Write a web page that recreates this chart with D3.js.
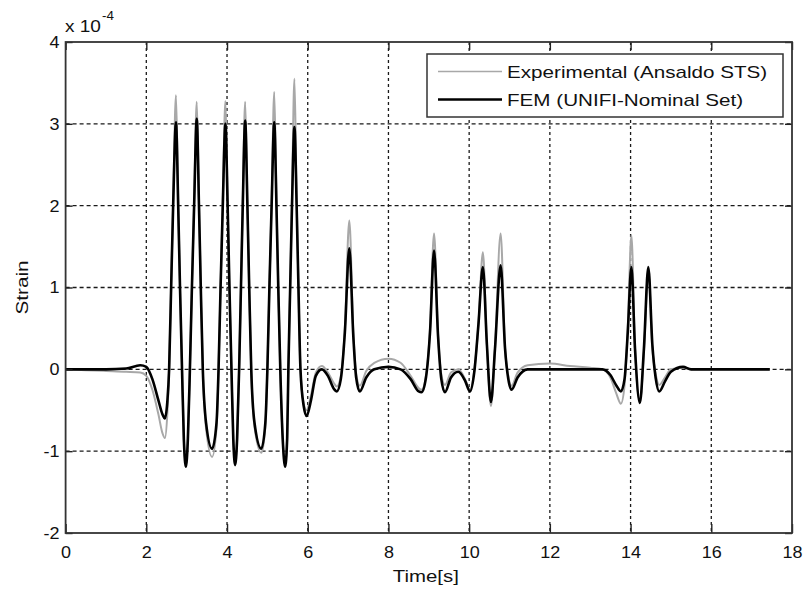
<!DOCTYPE html>
<html>
<head>
<meta charset="utf-8">
<script src="https://cdn.jsdelivr.net/npm/d3@7"></script>
<style>
  html, body { margin: 0; padding: 0; background: #fff; }
  svg { display: block; }
  text { font-family: "Liberation Sans", Arial, Helvetica, sans-serif; fill: #111; }
</style>
</head>
<body>
<svg id="chart" width="804" height="589"></svg>
<script>
// ---- Data (strain in units of 1e-4) ----
const time = [
  0.00, 0.50, 1.00, 1.50, 1.85, 2.00, 2.15, 2.30, 2.40, 2.46, 2.52,
  2.565, 2.615, 2.665, 2.735, 2.79, 2.835, 2.885, 2.93, 2.98, 3.03,
  3.08, 3.13, 3.185, 3.25, 3.305, 3.35, 3.40, 3.48, 3.63, 3.74,
  3.79, 3.84, 3.895, 3.96, 4.015, 4.06, 4.11, 4.155, 4.20, 4.25,
  4.30, 4.345, 4.39, 4.45, 4.505, 4.55, 4.60, 4.68, 4.85, 4.95,
  5.00, 5.05, 5.105, 5.17, 5.225, 5.27, 5.32, 5.38, 5.44, 5.49,
  5.52, 5.565, 5.61, 5.67, 5.725, 5.77, 5.82, 5.90, 5.97, 6.08,
  6.20, 6.35, 6.50, 6.65, 6.72, 6.82, 6.92, 7.03, 7.13, 7.20,
  7.29, 7.45, 7.65, 8.00, 8.30, 8.55, 8.75, 8.82, 8.93, 9.03,
  9.13, 9.23, 9.31, 9.40, 9.55, 9.73, 9.90, 10.02, 10.13, 10.23,
  10.34, 10.44, 10.54, 10.64, 10.78, 10.89, 10.97, 11.05, 11.20, 11.45,
  12.00, 12.50, 13.00, 13.30, 13.50, 13.65, 13.76, 13.85, 13.93, 14.02,
  14.11, 14.23, 14.33, 14.44, 14.54, 14.62, 14.71, 14.85, 15.00, 15.30,
  15.50, 16.50, 17.45
];
const fem = [
  0, 0, 0, 0.01, 0.05, 0.03, -0.12, -0.38, -0.55, -0.60, -0.40,
  0.0, 1.0, 2.0, 3.02, 2.0, 1.0, 0.0, -0.85, -1.19, -0.85,
  0.0, 1.0, 2.0, 3.06, 2.0, 1.0, 0.0, -0.65, -0.97, -0.65,
  0.0, 1.0, 2.0, 3.00, 2.0, 1.0, 0.0, -0.85, -1.17, -0.85,
  0.0, 1.0, 2.0, 3.04, 2.0, 1.0, 0.0, -0.65, -0.97, -0.65,
  0.0, 1.0, 2.0, 3.02, 2.0, 1.0, 0.0, -0.85, -1.19, -0.85,
  0.0, 1.0, 2.0, 2.96, 2.0, 1.0, 0.0, -0.45, -0.57, -0.38,
  -0.08, 0.0, -0.08, -0.24, -0.27, -0.12, 0.45, 1.48, 0.40, -0.10,
  -0.27, -0.10, 0.0, 0.03, 0.0, -0.12, -0.27, -0.28, -0.10, 0.45,
  1.45, 0.40, -0.12, -0.28, -0.10, -0.03, -0.14, -0.27, -0.02, 0.55,
  1.25, 0.30, -0.40, 0.25, 1.27, 0.25, -0.12, -0.25, -0.10, 0.0,
  0.0, 0.0, 0.0, 0.0, -0.07, -0.20, -0.27, -0.12, 0.45, 1.25,
  0.25, -0.41, 0.25, 1.25, 0.30, -0.10, -0.27, -0.15, -0.03, 0.03,
  0.0, 0.0, 0.0
];
const experimental = [
  0, -0.01, -0.02, -0.03, -0.04, -0.08, -0.25, -0.55, -0.78, -0.84, -0.55,
  0.0, 1.0, 2.05, 3.35, 2.05, 1.0, 0.0, -0.85, -1.17, -0.85,
  0.0, 1.0, 2.05, 3.27, 2.05, 1.0, 0.0, -0.72, -1.07, -0.72,
  0.0, 1.0, 2.05, 3.28, 2.05, 1.0, 0.0, -0.85, -1.15, -0.85,
  0.0, 1.0, 2.05, 3.27, 2.05, 1.0, 0.0, -0.70, -1.02, -0.70,
  0.0, 1.0, 2.05, 3.39, 2.05, 1.0, 0.0, -0.85, -1.17, -0.85,
  0.0, 1.0, 2.10, 3.55, 2.10, 1.0, 0.0, -0.42, -0.50, -0.32,
  -0.04, 0.04, -0.04, -0.17, -0.21, -0.08, 0.50, 1.82, 0.45, -0.05,
  -0.20, -0.02, 0.08, 0.13, 0.08, -0.08, -0.23, -0.25, -0.08, 0.50,
  1.66, 0.42, -0.06, -0.19, -0.04, 0.0, -0.12, -0.25, 0.0, 0.55,
  1.43, 0.30, -0.45, 0.25, 1.66, 0.25, -0.08, -0.20, -0.04, 0.05,
  0.07, 0.04, 0.02, 0.0, -0.10, -0.30, -0.42, -0.20, 0.50, 1.64,
  0.25, -0.40, 0.20, 1.22, 0.25, -0.05, -0.19, -0.10, 0.0, 0.02,
  0.0, 0.0, 0.0
];
const xTicks = [0, 2, 4, 6, 8, 10, 12, 14, 16, 18];
const yTicks = [-2, -1, 0, 1, 2, 3, 4];
const seriesNames = ["Experimental (Ansaldo STS)", "FEM (UNIFI-Nominal Set)"];
const xLabel = "Time[s]";
const yLabel = "Strain";
const exponentBase = "x 10";
const exponentPower = "-4";

// ---- Layout ----
const svg = d3.select("#chart");
const L = 65.6, R = 792, T = 42, B = 533;
const x = d3.scaleLinear().domain([0, 18]).range([L, R]);
const y = d3.scaleLinear().domain([-2, 4]).range([B, T]);

svg.append("rect").attr("width", 804).attr("height", 589).attr("fill", "#fff");

// grid
const grid = svg.append("g");
grid.selectAll("line.vg").data(xTicks.slice(1, -1)).join("line")
  .attr("x1", d => x(d)).attr("x2", d => x(d)).attr("y1", T).attr("y2", B)
  .attr("stroke", "#1a1a1a").attr("stroke-width", 1.3).attr("stroke-dasharray", "3,3");
grid.selectAll("line.hg").data(yTicks.slice(1, -1)).join("line")
  .attr("x1", L).attr("x2", R).attr("y1", d => y(d)).attr("y2", d => y(d))
  .attr("stroke", "#1a1a1a").attr("stroke-width", 1.3).attr("stroke-dasharray", "4,3");

// series
const pts = (vals) => time.map((t, i) => [t, vals[i]]);
const line = d3.line().x(d => x(d[0])).y(d => y(d[1])).curve(d3.curveMonotoneX);
svg.append("path").datum(pts(experimental)).attr("d", line)
  .attr("fill", "none").attr("stroke", "#a8a8a8").attr("stroke-width", 2).attr("stroke-linejoin", "round");
svg.append("path").datum(pts(fem)).attr("d", line)
  .attr("fill", "none").attr("stroke", "#000").attr("stroke-width", 2.6).attr("stroke-linejoin", "round");

// axes
const fmt = d => String(d);
const gx = svg.append("g").attr("transform", `translate(0,${B})`)
  .call(d3.axisBottom(x).tickValues(xTicks).tickFormat(fmt).tickSize(-9).tickPadding(13));
const gxt = svg.append("g").attr("transform", `translate(0,${T})`)
  .call(d3.axisTop(x).tickValues(xTicks).tickFormat("").tickSize(-8));
const gy = svg.append("g").attr("transform", `translate(${L},0)`)
  .call(d3.axisLeft(y).tickValues(yTicks).tickFormat(fmt).tickSize(-7).tickPadding(6));
const gyr = svg.append("g").attr("transform", `translate(${R},0)`)
  .call(d3.axisRight(y).tickValues(yTicks).tickFormat("").tickSize(-7));
[gx, gxt, gy, gyr].forEach(g => {
  g.select(".domain").remove();
  g.selectAll(".tick line").attr("stroke", "#222").attr("stroke-width", 1.4);
});
gx.selectAll(".tick text").attr("font-size", 17).attr("font-family", null).attr("fill", "#111")
  .attr("transform", "scale(1.06,1)");
gy.selectAll(".tick text").attr("font-size", 17).attr("font-family", null).attr("fill", "#111")
  .each(function () {
    const t = d3.select(this);
    const xx = +t.attr("x");
    t.attr("x", 0).attr("transform", `translate(${xx},0) scale(1.06,1)`);
  });

// box
svg.append("rect").attr("x", L).attr("y", T).attr("width", R - L).attr("height", B - T)
  .attr("fill", "none").attr("stroke", "#333").attr("stroke-width", 1.8);

// axis labels
svg.append("text").attr("transform", `translate(${(L + R) / 2 - 3},582) scale(1.2,1)`)
  .attr("text-anchor", "middle").attr("font-size", 17).text(xLabel);
svg.append("text").attr("transform", `translate(28,${(T + B) / 2}) rotate(-90) scale(1.22,1)`)
  .attr("text-anchor", "middle").attr("font-size", 17).text(yLabel);

// exponent
const ex = svg.append("text").attr("transform", "translate(65,32) scale(1.12,1)").attr("font-size", 17);
ex.append("tspan").text(exponentBase);
ex.append("tspan").attr("font-size", 12).attr("dy", -12).attr("dx", 1).text(exponentPower);

// legend
const lg = svg.append("g");
lg.append("rect").attr("x", 427).attr("y", 54).attr("width", 356).attr("height", 63)
  .attr("fill", "#fff").attr("stroke", "#333").attr("stroke-width", 1.5);
const legendItems = [
  { name: seriesNames[0], color: "#a8a8a8", w: 1.6, yy: 71.5 },
  { name: seriesNames[1], color: "#000", w: 2.6, yy: 99.5 }
];
legendItems.forEach(it => {
  lg.append("line").attr("x1", 438).attr("x2", 502).attr("y1", it.yy).attr("y2", it.yy)
    .attr("stroke", it.color).attr("stroke-width", it.w);
  lg.append("text").attr("transform", `translate(507,${it.yy + 6}) scale(1.29,1)`)
    .attr("font-size", 16).text(it.name);
});
</script>
</body>
</html>
